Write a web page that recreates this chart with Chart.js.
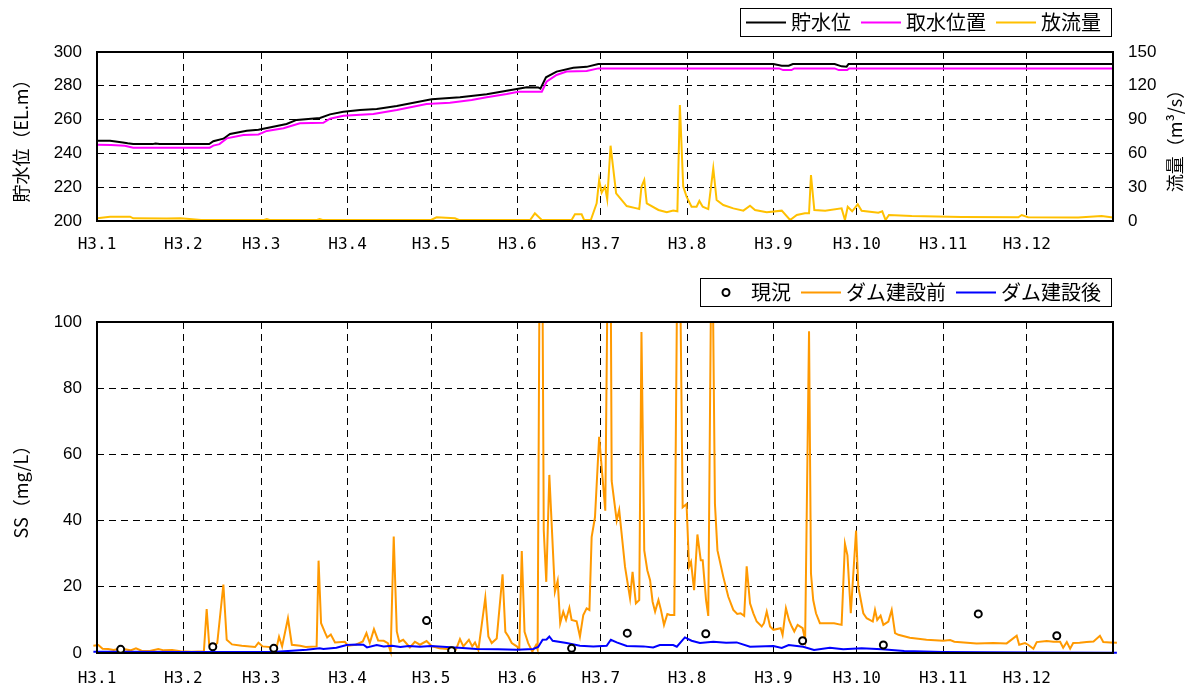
<!DOCTYPE html>
<html lang="ja">
<head>
<meta charset="utf-8">
<title>貯水位・放流量とSS</title>
<script src="https://cdn.jsdelivr.net/npm/chart.js@4"></script>
<style>
  html, body { margin: 0; padding: 0; background: #fff; }
  #wrap { position: relative; width: 1195px; height: 695px; }
  canvas { position: absolute; left: 0; }
  #level_chart { top: 0; }
  #ss_chart { top: 270px; }
</style>
</head>
<body>
<div id="wrap">
  <canvas id="level_chart" width="1195" height="270"></canvas>
  <canvas id="ss_chart" width="1195" height="425"></canvas>
</div>
<script>
// 月の区切り（1月1日からの通日）と目盛ラベル
const monthStartDays = [0, 31, 59, 90, 120, 151, 181, 212, 243, 273, 304, 334];
const monthLabels = ['H3.1', 'H3.2', 'H3.3', 'H3.4', 'H3.5', 'H3.6', 'H3.7', 'H3.8', 'H3.9', 'H3.10', 'H3.11', 'H3.12'];

// 貯水位 (EL.m)  [通日, 値]
const storageLevel = [
  [0, 247.5], [4.7, 247.5], [9.3, 246.5], [11, 246], [13, 245.5], [20, 245.5], [21, 245.9], [22.5, 245.5],
  [40.3, 245.5], [41.8, 247.2], [45.4, 248.7], [47.8, 251.5], [53.8, 253.4], [58, 254], [63.3, 255.8],
  [68.1, 257.4], [71.7, 259.8], [80.1, 261], [83.7, 263.1], [88.5, 264.7], [94.5, 265.7], [100.5, 266.3],
  [107.7, 268], [120.2, 272], [130.4, 273.2], [140, 275], [147.2, 277.1], [154.4, 279.1], [158.5, 279],
  [159.3, 278.3], [161.3, 285], [165.1, 288.4], [171.1, 290.7], [175.9, 291.2], [180.1, 292.9],
  [243, 292.9], [246, 291.9], [248.5, 291.9], [250, 292.9], [265, 292.9], [267.5, 291.5], [269.3, 291.3],
  [270, 292.9], [365, 292.9]
];

// 取水位置 (EL.m)
const intakeLevel = [
  [0, 245.1], [5, 245], [10, 244.5], [13, 243.4], [40.5, 243.4], [41.8, 244.6], [44, 245.5], [46.6, 248.9],
  [52.6, 250.9], [58, 251.2], [61, 253.3], [67, 254.9], [72.9, 257.8], [81.3, 258.1], [83.7, 260.5],
  [88.5, 262.3], [99.3, 263.3], [107.7, 265.7], [118.4, 269.2], [126.8, 270], [134.6, 271.6], [140, 273.2],
  [147.2, 275.1], [151.4, 276.5], [159.8, 276.5], [161.5, 282.4], [165.1, 286.4], [168.7, 288.4],
  [175.9, 288.8], [180.1, 290.3], [245, 290.3], [246.5, 289.3], [249.5, 289.3], [250.5, 290.3],
  [265, 290.3], [266.5, 289.3], [269.5, 289.3], [270.2, 290.3], [365, 290.3]
];

// 放流量 (m3/s)
const outflow = [
  [0, 2.4], [4.7, 3.8], [11.9, 3.8], [13, 2.4], [25, 2.2], [30, 2.4], [37.4, 0.9], [60, 0.9], [61, 1.8],
  [62, 0.9], [79, 0.9], [80, 1.8], [81, 0.9], [120, 0.9], [122, 3.3], [128.6, 2.4], [130, 0.9], [155.6, 0.9],
  [157.3, 6.8], [159.8, 0.9], [170.5, 0.9], [171.7, 5.9], [174.1, 5.9], [175, 0.9], [177.4, 0.9],
  [179.5, 15.7], [180.4, 36.4], [181.3, 25.1], [182.5, 30.5], [183.3, 19.3], [184.5, 66.8], [186.5, 24.6],
  [190.3, 13.3], [193.9, 11.2], [194.8, 10.6], [195.6, 30.5], [196.6, 36.4], [197.5, 15.7], [201.7, 9.8],
  [204.7, 7.7], [207, 9.2], [208.5, 8.6], [209.4, 103], [210.6, 30.5], [211.8, 21.6], [213.6, 12.7],
  [215.4, 12.7], [216.4, 17.8], [217.6, 12.7], [219.6, 10.6], [221.4, 46.8], [222.6, 18.6], [225, 14.2],
  [228.6, 11.2], [232.2, 9.2], [234.6, 13.6], [236.4, 9.8], [240.6, 7.7], [246, 9.2], [249, 0.9],
  [251.4, 5.3], [254.3, 6.8], [255.8, 6.8], [256.5, 40.8], [257.7, 9.8], [261.6, 9.2], [267.5, 11.2],
  [268.7, 0.9], [269.7, 12.7], [271.3, 8.6], [273.3, 14.8], [274.7, 9], [280.7, 7.4], [282.1, 8.6],
  [283.3, 0.9], [284.5, 5.3], [292.7, 4.4], [310.6, 3.6], [331, 3.3], [332.2, 5.3], [334.5, 3.3],
  [352.5, 3], [360.9, 4.4], [365, 3]
];

// SS (mg/L) 現況の観測値
const ssObserved = [
  [8.5, 1.1], [41.6, 1.9], [63.5, 1.4], [118.4, 9.8], [127.4, 0.7], [170.5, 1.4],
  [190.5, 6], [218.7, 5.8], [253.5, 3.7], [282.5, 2.4], [316.6, 11.8], [344.8, 5.2]
];

// SS (mg/L) ダム建設前
const ssBeforeDam = [
  [-1.3, 2.2], [0.5, 2.4], [2, 1.3], [4, 1.2], [6, 0.9], [8, 1.3], [10, 1.1], [12, 0.8], [14, 1.4],
  [16, 0.7], [19, 0.6], [22, 1.2], [24, 0.8], [27, 0.9], [30, 0.5], [34, 0.4], [38.4, 0.5], [39.4, 13.3],
  [40.3, 2.5], [42, 2], [43.2, 3], [45.4, 20.7], [46.6, 4], [48.5, 2.6], [52, 2.2], [56.8, 1.8], [58, 3.1],
  [59.5, 2], [64.5, 1.6], [65.4, 4.9], [66.5, 2], [68.6, 10.5], [70, 2.5], [73, 2.2], [75, 1.8], [78.9, 2],
  [79.6, 27.9], [80.5, 9], [82, 6], [82.7, 4.7], [84, 5.6], [85.5, 3.2], [89, 3.4], [90.2, 2.2], [93, 2.5],
  [95.5, 3.5], [96.8, 6], [98, 3], [99.5, 7.2], [101, 3.8], [103, 3.7], [104.5, 3], [105.5, 0.4],
  [106.6, 35.2], [107.7, 6.5], [108.6, 3.4], [110, 4], [112.4, 1.7], [114.2, 3.4], [116, 2.5], [118.4, 3.6],
  [120.2, 2.1], [123, 1.4], [126, 1.2], [129, 1.1], [130.4, 4.2], [131.6, 2], [133.6, 4], [134.8, 2],
  [135.8, 3.2], [137, 0.9], [139.5, 16.7], [140.6, 5], [141.8, 3], [143.6, 4.4], [145.7, 23.8], [146.7, 6.4],
  [147.8, 5], [149, 3], [150.8, 2], [151.7, 1.2], [152.6, 30.8], [153.6, 6.4], [154.9, 3], [156.4, 0.4],
  [157.7, 2.4], [158.3, 1], [159.5, 200], [160.5, 37], [161.4, 21.5], [162.5, 53.8], [164.5, 18.5],
  [165.5, 21.8], [166.4, 9], [167.5, 12.5], [168.5, 10], [169.7, 13.7], [170.5, 10], [172.3, 9.6],
  [173.5, 5], [174.7, 11.5], [175.9, 13.5], [176.9, 13], [177.7, 35], [178.9, 41], [180.4, 65.3],
  [182.6, 43], [184.2, 180], [184.9, 52], [186.7, 40], [187.6, 43.2], [189.7, 26], [191.5, 16.5],
  [192.4, 24.5], [193.6, 15], [194.8, 16], [195.6, 97], [196.6, 31], [197.7, 25], [198.7, 22],
  [199.6, 15.5], [200.5, 12.5], [201.7, 16], [202.6, 13], [203.7, 8.5], [204.9, 11.8], [205.9, 11.5],
  [207.4, 11.5], [208.9, 160], [210.4, 44], [211.8, 45], [212.7, 26], [213.4, 27.5], [214.5, 19],
  [215.7, 35.8], [216.9, 28], [217.6, 28], [218.8, 16], [219.6, 11.2], [220.9, 140], [222, 45], [222.9, 31],
  [225, 23], [226.8, 17], [228.6, 13], [230, 11.8], [231.2, 12], [232.5, 11.2], [233.4, 26.2], [234.6, 15],
  [235.8, 12], [237, 9.5], [238.8, 8], [239.6, 9], [240.6, 12.5], [241.8, 8], [243, 7], [245.6, 7.5],
  [246.3, 5.5], [247.5, 13.5], [248.6, 10], [249.6, 8], [250.5, 6.5], [251.7, 8.5], [253.5, 7.5],
  [254.4, 4], [255.8, 97.2], [256.5, 24], [257.3, 16], [258.3, 12], [259.7, 9], [262.1, 9], [264.8, 9],
  [267.5, 8.5], [268.7, 33], [269.6, 29.5], [270.8, 12], [272.7, 37], [273.5, 20], [275.3, 12],
  [276.5, 10.5], [278.7, 9.5], [279.5, 13], [280.3, 10], [281.5, 11.3], [282.5, 8.5], [284.3, 9.5],
  [285.5, 13], [286.7, 6], [287.9, 5.5], [292, 4.6], [298, 4], [304, 3.7], [306.5, 3.9], [308, 3.4],
  [316, 2.9], [322, 3], [326.8, 2.9], [330.4, 5.2], [331.3, 2.5], [333.4, 3], [334.5, 2.5], [336.4, 1.3],
  [337.6, 3.3], [341.2, 3.6], [343.6, 3.4], [346, 3.4], [347.1, 1.6], [348.4, 3.3], [349.6, 1.3],
  [350.7, 3], [353, 3.1], [355.5, 3.3], [358, 3.5], [360.3, 5.2], [361.5, 3.3], [364, 3.2], [366.4, 3.1]
];

// SS (mg/L) ダム建設後
const ssAfterDam = [
  [-1.3, 0.4], [10, 0.4], [30, 0.3], [50, 0.3], [64.5, 0.4], [70, 0.7], [75.3, 1], [80, 1.4], [81.3, 1.2],
  [86, 1.6], [89.7, 2.4], [93.3, 2.6], [95.7, 2.5], [97, 1.7], [100.5, 2.4], [103, 2], [106, 2.2], [109, 1.8],
  [112, 2.1], [116, 1.9], [120, 2.1], [125.6, 1.8], [130, 1.6], [136.4, 1.2], [144, 1.1], [150.8, 1],
  [156.7, 1.2], [158.5, 1.8], [160.1, 4], [161.5, 4.1], [162.5, 5], [163.7, 3.7], [168.7, 3], [173.5, 2.2],
  [178.3, 2], [183.1, 2.2], [184.6, 4], [186.7, 3.2], [190.3, 2.1], [196.3, 2], [199.8, 1.7], [202.2, 2.4],
  [207, 2.4], [208.3, 1.9], [211.2, 4.7], [213.6, 3.7], [216.6, 3], [221.4, 3.4], [226, 3.1], [229.8, 3.2],
  [234.6, 1.9], [243, 2.1], [246, 1.5], [248.5, 2.4], [253.7, 1.9], [257.6, 0.9], [263.3, 1.6],
  [268.1, 1.1], [274.7, 1.4], [282, 1.1], [290, 0.6], [304, 0.3], [320, 0.2], [340, 0.15], [366.4, 0.1]
];

const toPoints = pairs => pairs.map(([x, y]) => ({ x, y }));

const jpFont = '"Noto Sans CJK JP", sans-serif';
const tickFont = { family: '"Liberation Sans", Arial, sans-serif', size: 17 };
const monthFont = { family: '"DejaVu Sans Mono", monospace', size: 16 };

// 横軸：月初めに破線の目盛線
function monthAxis(height, pad) {
  return {
    type: 'linear',
    min: 0,
    max: 365,
    afterBuildTicks: axis => { axis.ticks = monthStartDays.map(v => ({ value: v })); },
    afterFit: axis => { axis.height = height; },
    ticks: {
      autoSkip: false,
      maxRotation: 0,
      padding: pad,
      color: '#000',
      font: monthFont,
      callback: (v, i) => monthLabels[i]
    },
    grid: { color: '#000', drawTicks: false },
    border: { display: false, dash: [7, 5] }
  };
}

function valueAxis(min, max, step, width, position) {
  return {
    type: 'linear',
    position: position,
    min: min,
    max: max,
    afterFit: axis => { axis.width = width; },
    ticks: { stepSize: step, padding: 15, color: '#000', font: tickFont },
    grid: { color: '#000', drawTicks: false, drawOnChartArea: position === 'left' },
    border: { display: false, dash: [7, 5] }
  };
}

// グラフ枠
const frame = {
  id: 'frame',
  afterDatasetsDraw(chart) {
    const { ctx, chartArea: a } = chart;
    ctx.save();
    ctx.strokeStyle = '#000';
    ctx.lineWidth = 2;
    ctx.strokeRect(a.left, a.top, a.right - a.left, a.bottom - a.top);
    ctx.restore();
  }
};

// 枠付きの凡例（右寄せ）
const boxLegend = {
  id: 'boxLegend',
  afterDraw(chart, args, opts) {
    const ctx = chart.ctx;
    const sample = 40, gap = 5, between = 10, padL = 6, padR = 10;
    ctx.save();
    ctx.font = '20px ' + jpFont;
    const items = chart.data.datasets.map(ds => ({ ds, w: ctx.measureText(ds.label).width }));
    const total = padL + padR + items.reduce((s, it) => s + sample + gap + it.w, 0) + between * (items.length - 1);
    const left = Math.round(opts.right - total);
    ctx.fillStyle = '#fff';
    ctx.fillRect(left, opts.top, total, opts.height);
    ctx.strokeStyle = '#000';
    ctx.lineWidth = 1;
    ctx.strokeRect(left + 0.5, opts.top + 0.5, Math.round(total), opts.height);
    const cy = opts.top + opts.height / 2 + 0.5;
    let x = left + padL;
    items.forEach(it => {
      const ds = it.ds;
      if (ds.showLine === false) {
        ctx.beginPath();
        ctx.arc(x + sample / 2, cy, ds.pointRadius, 0, Math.PI * 2);
        ctx.fillStyle = ds.pointBackgroundColor;
        ctx.fill();
        ctx.lineWidth = ds.pointBorderWidth;
        ctx.strokeStyle = ds.pointBorderColor;
        ctx.stroke();
      } else {
        ctx.beginPath();
        ctx.moveTo(x, cy);
        ctx.lineTo(x + sample, cy);
        ctx.lineWidth = ds.borderWidth;
        ctx.strokeStyle = ds.borderColor;
        ctx.stroke();
      }
      ctx.fillStyle = '#000';
      ctx.textBaseline = 'middle';
      ctx.textAlign = 'left';
      ctx.fillText(ds.label, x + sample + gap, cy);
      x += sample + gap + it.w + between;
    });
    ctx.restore();
  }
};

// 右軸の見出し（下から上へ読む向き）
const rightTitle = {
  id: 'rightTitle',
  afterDraw(chart, args, opts) {
    const ctx = chart.ctx;
    ctx.save();
    ctx.translate(opts.x, (chart.chartArea.top + chart.chartArea.bottom) / 2);
    ctx.rotate(-Math.PI / 2);
    ctx.font = '18px ' + jpFont;
    ctx.fillStyle = '#000';
    ctx.textAlign = 'center';
    ctx.textBaseline = 'middle';
    ctx.fillText(opts.text, 0, 0);
    ctx.restore();
  }
};

const leftTitle = text => ({
  display: true,
  text: text,
  color: '#000',
  font: { family: jpFont, size: 18 },
  padding: { top: 10, bottom: 0 }
});

// 上段：貯水位・取水位置・放流量
const levelY = valueAxis(200, 300, 20, 97, 'left');
levelY.title = leftTitle('貯水位（EL.m）');

new Chart(document.getElementById('level_chart'), {
  type: 'line',
  data: {
    datasets: [{
      label: '貯水位',
      data: toPoints(storageLevel),
      borderColor: '#000000',
      borderWidth: 2,
      pointRadius: 0,
      yAxisID: 'y'
    }, {
      label: '取水位置',
      data: toPoints(intakeLevel),
      borderColor: '#ff00ff',
      borderWidth: 2,
      pointRadius: 0,
      yAxisID: 'y'
    }, {
      label: '放流量',
      data: toPoints(outflow),
      borderColor: '#ffc000',
      borderWidth: 2,
      pointRadius: 0,
      yAxisID: 'y2'
    }]
  },
  options: {
    responsive: false,
    animation: false,
    layout: { padding: { top: 52, left: 0, right: 0, bottom: 0 } },
    plugins: {
      legend: { display: false },
      tooltip: { enabled: false },
      boxLegend: { right: 1111, top: 8, height: 28 },
      rightTitle: { x: 1175, text: '流量（m³/s）' }
    },
    scales: {
      x: monthAxis(49, 14),
      y: levelY,
      y2: valueAxis(0, 150, 30, 82, 'right')
    }
  },
  plugins: [frame, boxLegend, rightTitle]
});

// 下段：SS
const ssY = valueAxis(0, 100, 20, 97, 'left');
ssY.title = leftTitle('SS（mg/L）');

new Chart(document.getElementById('ss_chart'), {
  type: 'line',
  data: {
    datasets: [{
      label: '現況',
      data: toPoints(ssObserved),
      showLine: false,
      pointRadius: 3.5,
      pointBorderWidth: 2,
      pointBorderColor: '#000000',
      pointBackgroundColor: '#ffffff',
      order: 0
    }, {
      label: 'ダム建設前',
      data: toPoints(ssBeforeDam),
      borderColor: '#ff9900',
      borderWidth: 2,
      pointRadius: 0,
      clip: { left: false, top: 0, right: false, bottom: false },
      order: 2
    }, {
      label: 'ダム建設後',
      data: toPoints(ssAfterDam),
      borderColor: '#0000ff',
      borderWidth: 2,
      pointRadius: 0,
      clip: { left: false, top: 0, right: false, bottom: false },
      order: 1
    }]
  },
  options: {
    responsive: false,
    animation: false,
    layout: { padding: { top: 52, left: 0, right: 82, bottom: 0 } },
    plugins: {
      legend: { display: false },
      tooltip: { enabled: false },
      boxLegend: { right: 1111, top: 8, height: 28 }
    },
    scales: {
      x: monthAxis(42, 16),
      y: ssY
    }
  },
  plugins: [frame, boxLegend]
});
</script>
</body>
</html>
